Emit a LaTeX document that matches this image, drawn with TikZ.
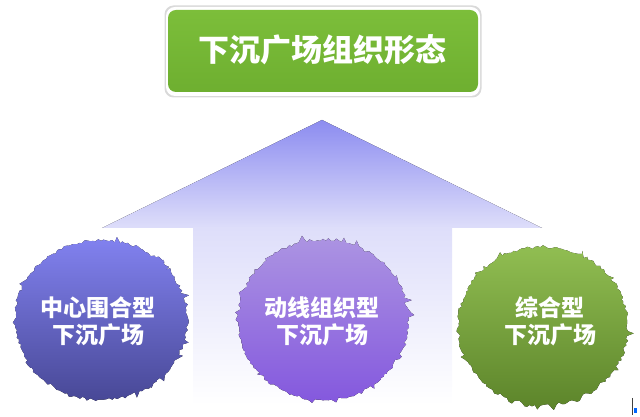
\documentclass[tikz,border=0pt]{standalone}
\usepackage{fontspec}
\newfontfamily\cjk{Noto Sans CJK SC}
\definecolor{titlegreen}{RGB}{124,190,58}
\definecolor{titlegreendark}{RGB}{110,175,48}
\definecolor{arrowtop}{RGB}{140,140,240}
\definecolor{arrowmid}{RGB}{222,222,250}
\definecolor{shaftmid}{RGB}{242,242,253}
\definecolor{bAtop}{RGB}{130,130,240}
\definecolor{bAbot}{RGB}{72,72,150}
\definecolor{bBtop}{RGB}{172,148,226}
\definecolor{bBbot}{RGB}{132,88,222}
\definecolor{bCtop}{RGB}{145,190,82}
\definecolor{bCbot}{RGB}{92,132,42}
\newcommand{\splatblob}[6]{%
  \fill[top color=#5, bottom color=#6]
    plot[variable=\t, samples=200, domain=0:358.2]
    ({#1+(#3)*(1+0.02*rand+0.08*rnd^14)*cos(\t)},
     {#2+(#4)*(1+0.02*rand+0.08*rnd^14)*sin(\t)}) -- cycle;}
\tikzset{
  blobtext/.style={text=white, font=\cjk\bfseries\fontsize{23}{27}\selectfont, align=center, inner sep=0pt},
  titletext/.style={text=white, font=\cjk\bfseries\fontsize{31}{36}\selectfont, inner sep=0pt}
}
\begin{document}
\begin{tikzpicture}[x=1pt,y=1pt]
\useasboundingbox (0,0) rectangle (640,417);
\pgfmathsetseed{7}
% big arrow
\fill[top color=arrowtop, bottom color=arrowmid]
  (322,297) -- (542,189) -- (102,189) -- cycle;
\fill[top color=arrowmid, middle color=shaftmid, bottom color=white]
  (193,189.5) rectangle (452,12);
% title
\fill[gray!30, rounded corners=9pt] (164.5,319.5) rectangle (481.5,411.5);
\fill[white, rounded corners=9pt] (166,321) rectangle (480,410);
\node[draw=none, top color=titlegreen, bottom color=titlegreendark, rounded corners=8pt,
      minimum width=310pt, minimum height=82pt, inner sep=0pt] (title) at (323,366) {};
\node[titletext] (titlelabel) at (322,367) {下沉广场组织形态};
% blobs
\splatblob{101}{97}{86}{80}{bAtop}{bAbot}
\splatblob{323}{97}{85}{80}{bBtop}{bBbot}
\splatblob{543}{91}{85}{79}{bCtop}{bCbot}
\node[blobtext] (ta) at (98,96) {中心围合型\\下沉广场};
\node[blobtext] (tb) at (322,96) {动线组织型\\下沉广场};
\node[blobtext] (tc) at (550,96) {综合型\\下沉广场};
% small mark bottom right
\draw[line width=1pt, black!75] (632,19) -- (632,2);
\fill[blue!60!cyan] (633.5,4) rectangle (637,9);
\end{tikzpicture}
\end{document}
